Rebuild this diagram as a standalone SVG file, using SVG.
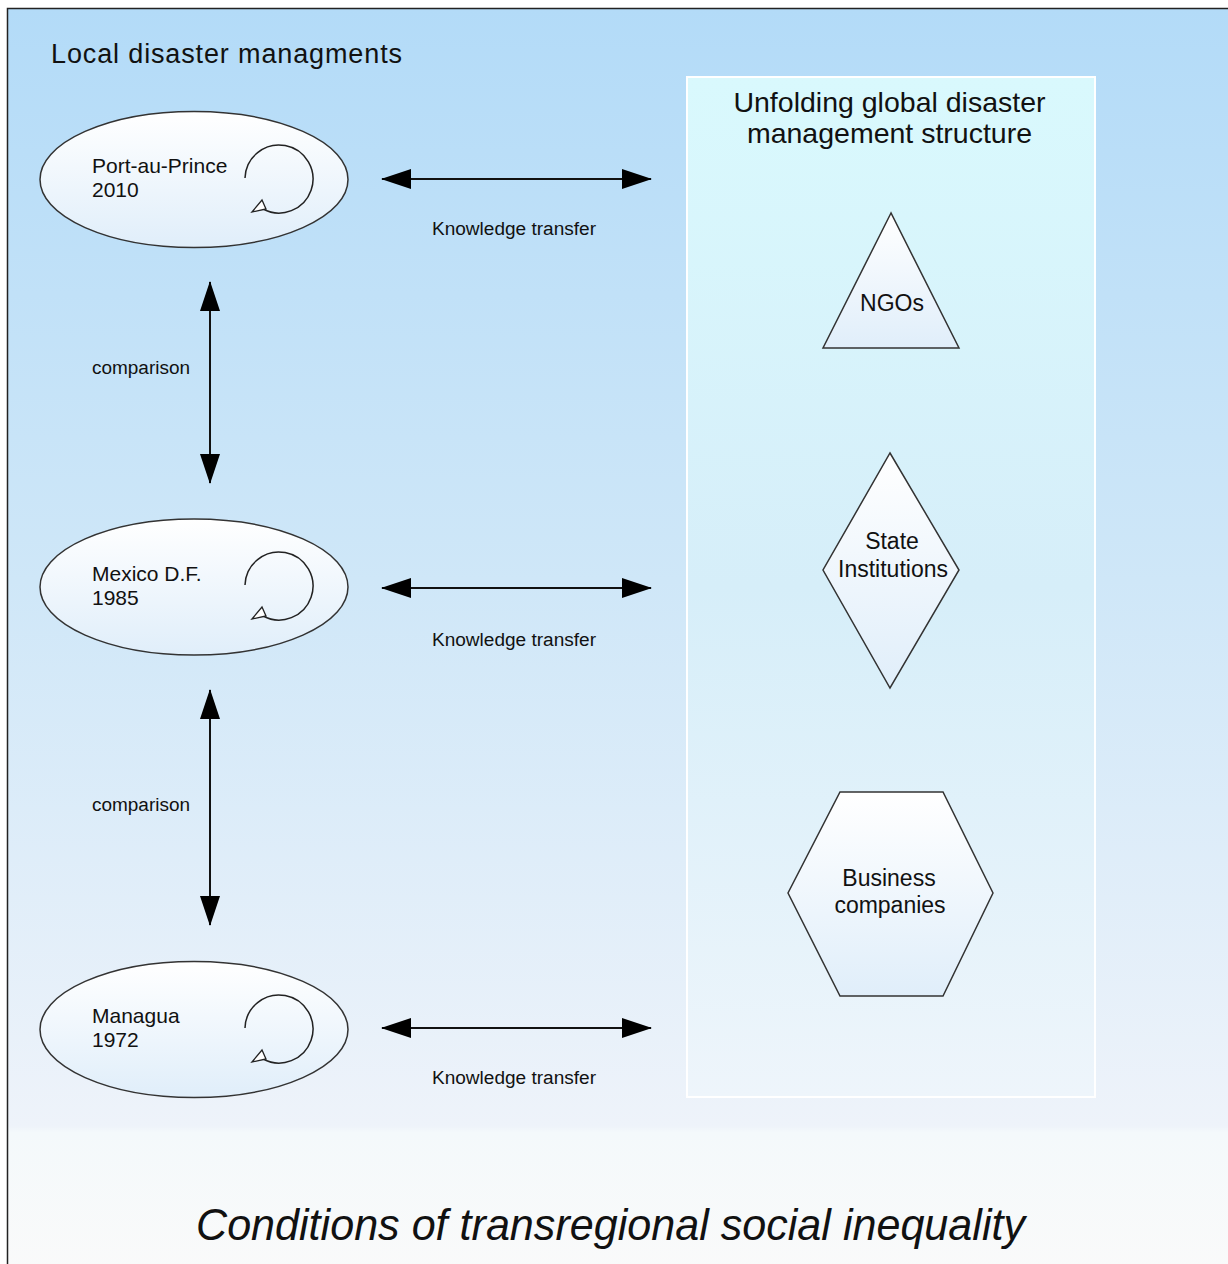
<svg xmlns="http://www.w3.org/2000/svg" width="1228" height="1264" viewBox="0 0 1228 1264">
<defs>
<style>
.t{font-family:"Liberation Sans",Arial,sans-serif;fill:#111}
.big{font-size:27px}
.node{font-size:21px}
.snode{font-size:23px}
.lbl{font-size:18px}
.shape{fill:url(#shapeGrad);stroke:#333;stroke-width:1.5}
.conn{stroke:#111;stroke-width:2;fill:none}
.loop{stroke:#222;stroke-width:1.5;fill:none}
</style>
<linearGradient id="bgGrad" x1="0" y1="0" x2="0" y2="1">
<stop offset="0" stop-color="#b3dbf8"/>
<stop offset="0.45" stop-color="#cfe7f8"/>
<stop offset="0.88" stop-color="#eef3fa"/>
<stop offset="0.885" stop-color="#f4f9fb"/>
<stop offset="1" stop-color="#fafafa"/>
</linearGradient>
<linearGradient id="panelGrad" x1="0" y1="0" x2="0" y2="1">
<stop offset="0" stop-color="#d9f9fd"/>
<stop offset="0.5" stop-color="#d6eef9"/>
<stop offset="1" stop-color="#eef5fb"/>
</linearGradient>
<linearGradient id="shapeGrad" x1="0" y1="0" x2="0" y2="1">
<stop offset="0" stop-color="#ffffff"/>
<stop offset="1" stop-color="#e0eefa"/>
</linearGradient>
<marker id="ah" viewBox="0 0 30 20" refX="29" refY="10" markerWidth="30" markerHeight="20" markerUnits="userSpaceOnUse" orient="auto-start-reverse">
<path d="M0,0 L30,10 L0,20 Z" fill="#000"/>
</marker>
<g id="loopIcon">
<path class="loop" d="M-34,-2 A34,34 0 1 1 -16,29"/>
<path d="M-27,32 L-17,20 L-13,29 Z" fill="#fff" stroke="#222" stroke-width="1.3"/>
</g>
</defs>

<rect x="7.5" y="8.5" width="1240" height="1270" fill="url(#bgGrad)" stroke="#222" stroke-width="1.5"/>

<text class="t big" x="51" y="63" textLength="351" lengthAdjust="spacing">Local disaster managments</text>

<g id="panel">
<rect x="687" y="77" width="408" height="1020" fill="url(#panelGrad)" stroke="#ffffff" stroke-width="2"/>
<text class="t" font-size="28.5" x="889.5" y="112" text-anchor="middle">Unfolding global disaster</text>
<text class="t" font-size="28.5" x="889.5" y="143" text-anchor="middle">management structure</text>
</g>

<g id="portauprince">
<ellipse class="shape" cx="194" cy="179.5" rx="154" ry="68"/>
<use href="#loopIcon" x="279" y="180"/>
<text class="t node" x="92" y="173">Port-au-Prince</text>
<text class="t node" x="92" y="197">2010</text>
</g>

<g id="mexico">
<ellipse class="shape" cx="194" cy="587" rx="154" ry="68"/>
<use href="#loopIcon" x="279" y="587"/>
<text class="t node" x="92" y="581">Mexico D.F.</text>
<text class="t node" x="92" y="605">1985</text>
</g>

<g id="managua">
<ellipse class="shape" cx="194" cy="1029.5" rx="154" ry="68"/>
<use href="#loopIcon" x="279" y="1030"/>
<text class="t node" x="92" y="1023">Managua</text>
<text class="t node" x="92" y="1047">1972</text>
</g>

<g id="ngos">
<polygon class="shape" points="891,213 823,348 959,348"/>
<text class="t snode" x="892" y="311" text-anchor="middle">NGOs</text>
</g>

<g id="state">
<polygon class="shape" points="890,453 959,570 890,688 823,570"/>
<text class="t snode" x="892" y="549" text-anchor="middle">State</text>
<text class="t snode" x="893" y="577" text-anchor="middle">Institutions</text>
</g>

<g id="business">
<polygon class="shape" points="840,792 943,792 993,893 943,996 840,996 788,893"/>
<text class="t snode" x="889" y="886" text-anchor="middle">Business</text>
<text class="t snode" x="890" y="913" text-anchor="middle">companies</text>
</g>

<g id="connectors">
<line class="conn" x1="382" y1="179" x2="651" y2="179" marker-start="url(#ah)" marker-end="url(#ah)"/>
<line class="conn" x1="382" y1="588" x2="651" y2="588" marker-start="url(#ah)" marker-end="url(#ah)"/>
<line class="conn" x1="382" y1="1028" x2="651" y2="1028" marker-start="url(#ah)" marker-end="url(#ah)"/>
<line class="conn" x1="210" y1="282" x2="210" y2="483" marker-start="url(#ah)" marker-end="url(#ah)"/>
<line class="conn" x1="210" y1="690" x2="210" y2="925" marker-start="url(#ah)" marker-end="url(#ah)"/>
<text class="t lbl" x="432" y="235" textLength="164" lengthAdjust="spacingAndGlyphs">Knowledge transfer</text>
<text class="t lbl" x="432" y="646" textLength="164" lengthAdjust="spacingAndGlyphs">Knowledge transfer</text>
<text class="t lbl" x="432" y="1084" textLength="164" lengthAdjust="spacingAndGlyphs">Knowledge transfer</text>
<text class="t lbl" x="92" y="374" textLength="98" lengthAdjust="spacingAndGlyphs">comparison</text>
<text class="t lbl" x="92" y="811" textLength="98" lengthAdjust="spacingAndGlyphs">comparison</text>
</g>

<text class="t" x="196" y="1240" font-size="44" font-style="italic" textLength="829" lengthAdjust="spacingAndGlyphs">Conditions of transregional social inequality</text>
</svg>
